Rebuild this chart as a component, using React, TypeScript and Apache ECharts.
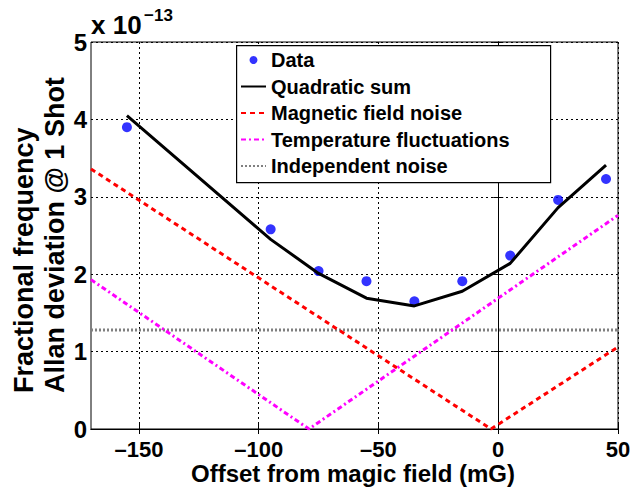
import React, { useEffect, useRef } from "react";
import * as echarts from "echarts";

const xTicks = [-150, -100, -50, 0, 50];
const yTicks = [0, 1, 2, 3, 4, 5];

const dataPoints = [
  [-155, 3.9], [-95, 2.58], [-75, 2.04], [-55, 1.91], [-35, 1.65],
  [-15, 1.91], [5, 2.24], [25, 2.96], [45, 3.23],
];
const quadraticSum = [
  [-155, 4.05], [-95, 2.45], [-75, 2.01], [-55, 1.69], [-35, 1.59],
  [-15, 1.78], [5, 2.14], [25, 2.86], [45, 3.41],
];
const magneticNoise = [[-170, 3.36], [-3, 0], [50, 1.06]];
const temperatureNoise = [[-170, 1.93], [-79, 0], [50, 2.76]];
const independentNoise = [[-170, 1.28], [50, 1.28]];

const seriesNames = [
  "Data",
  "Quadratic sum",
  "Magnetic field noise",
  "Temperature fluctuations",
  "Independent noise",
];

const FONT = "Liberation Sans, Arial, Helvetica, sans-serif";

export default function App() {
  const ref = useRef<HTMLDivElement>(null);
  useEffect(() => {
    if (!ref.current) return;
    const chart = echarts.init(ref.current, null, { renderer: "svg" });
    const gridLine = { show: true, lineStyle: { color: "#000", width: 1, type: [2, 3] } };
    chart.setOption({
      animation: false,
      backgroundColor: "#fff",
      textStyle: { fontFamily: FONT },
      grid: {
        left: 91, right: 17, top: 42, bottom: 58,
        show: true, borderColor: "#000", borderWidth: 1, backgroundColor: "transparent",
      },
      xAxis: [
        {
          type: "value", min: -170, max: 50, position: "bottom",
          axisLine: { show: true, lineStyle: { color: "#000", width: 1 } },
          axisTick: { show: true, inside: true, length: 5, customValues: xTicks, lineStyle: { color: "#000" } },
          axisLabel: {
            customValues: xTicks, margin: 9,
            formatter: (v: number) => String(v).replace("-", "\u2013"),
            color: "#000", fontSize: 22, fontWeight: "bold", fontFamily: FONT, lineHeight: 22,
          },
          splitLine: gridLine,
        },
        {
          type: "value", min: -170, max: 50, position: "top",
          axisLine: { show: true, lineStyle: { color: "#000", width: 1 } },
          axisTick: { show: true, inside: true, length: 5, customValues: xTicks, lineStyle: { color: "#000" } },
          axisLabel: { show: false, customValues: xTicks },
          splitLine: { show: false },
        },
      ],
      yAxis: [
        {
          type: "value", min: yTicks[0], max: yTicks[yTicks.length - 1], interval: 1,
          axisLine: { show: true, lineStyle: { color: "#000", width: 1 } },
          axisTick: { show: true, inside: true, length: 5, lineStyle: { color: "#000" } },
          axisLabel: { color: "#000", fontSize: 24, fontWeight: "bold", fontFamily: FONT, margin: 4 },
          splitLine: gridLine,
        },
        {
          type: "value", min: yTicks[0], max: yTicks[yTicks.length - 1], interval: 1, position: "right",
          axisLine: { show: true, lineStyle: { color: "#000", width: 1 } },
          axisTick: { show: true, inside: true, length: 5, lineStyle: { color: "#000" } },
          axisLabel: { show: false },
          splitLine: { show: false },
        },
      ],
      legend: {
        data: seriesNames.map((n, i) => (i === 0 ? { name: n } : { name: n, itemStyle: { opacity: 0 } })),
        orient: "vertical",
        left: 236, top: 45, z: 10,
        padding: [5, 10, 7, 4],
        itemWidth: 25, itemHeight: 8, itemGap: 6.5,
        backgroundColor: "transparent", borderWidth: 0,
        textStyle: { color: "#000", fontSize: 20, fontWeight: "bold", fontFamily: FONT, lineHeight: 20 },
      },
      series: [
        {
          name: "Independent noise", type: "line", data: independentNoise, symbol: "none",
          lineStyle: { color: "#808080", width: 3, type: [2, 2] }, itemStyle: { color: "#808080" },
        },
        {
          name: "Magnetic field noise", type: "line", data: magneticNoise, symbol: "none",
          lineStyle: { color: "#ff0000", width: 3, type: [5, 4] }, itemStyle: { color: "#ff0000" },
        },
        {
          name: "Temperature fluctuations", type: "line", data: temperatureNoise, symbol: "none",
          lineStyle: { color: "#ff00ff", width: 3, type: [5, 3, 2, 3] }, itemStyle: { color: "#ff00ff" },
        },
        {
          name: "Quadratic sum", type: "line", data: quadraticSum, symbol: "none",
          lineStyle: { color: "#000", width: 3 }, itemStyle: { color: "#000" },
        },
        {
          name: "Data", type: "scatter", data: dataPoints, symbol: "circle", symbolSize: 10,
          itemStyle: { color: "#0000ff" },
        },
      ],
      graphic: {
        elements: [
          {
            type: "rect", left: 236, top: 45, z: 5,
            shape: { x: 0, y: 0, width: 314, height: 137 },
            style: { fill: "#ffffff", stroke: "#000000", lineWidth: 1.2 },
          },
          {
            type: "text", x: 91, y: 38,
            style: { text: "x 10", font: `bold 26px ${FONT}`, fill: "#000", textAlign: "left", textVerticalAlign: "bottom" },
          },
          {
            type: "text", x: 144, y: 24,
            style: { text: "\u221213", font: `bold 17px ${FONT}`, fill: "#000", textAlign: "left", textVerticalAlign: "bottom" },
          },
          {
            type: "text", x: 24, y: 393, rotation: Math.PI / 2,
            style: { text: "Fractional frequency", font: `bold 27px ${FONT}`, fill: "#000", textAlign: "left", textVerticalAlign: "middle" },
          },
          {
            type: "text", x: 55, y: 393, rotation: Math.PI / 2,
            style: { text: "Allan deviation @ 1 Shot", font: `bold 27px ${FONT}`, fill: "#000", textAlign: "left", textVerticalAlign: "middle" },
          },
          {
            type: "text", x: 353, y: 473,
            style: { text: "Offset from magic field (mG)", font: `bold 24px ${FONT}`, fill: "#000", textAlign: "center", textVerticalAlign: "middle" },
          },
        ],
      },
    });
    return () => chart.dispose();
  }, []);
  return <div ref={ref} style={{ width: 635, height: 487, position: "absolute", left: 0, top: 0 }} />;
}
